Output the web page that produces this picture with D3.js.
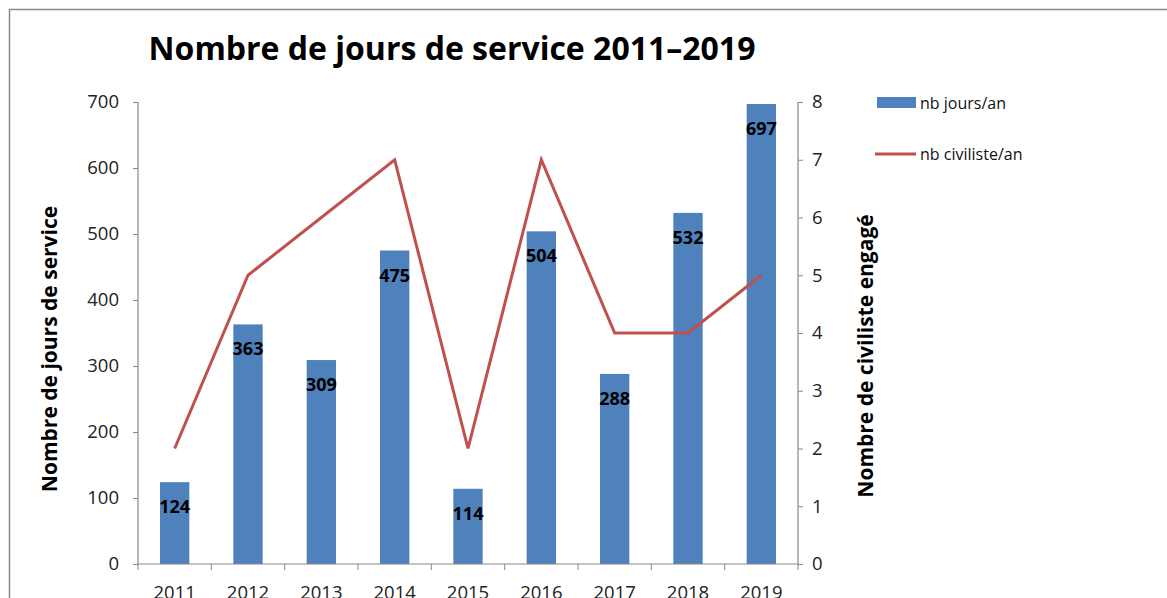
<!DOCTYPE html>
<html>
<head>
<meta charset="utf-8">
<script src="https://cdn.jsdelivr.net/npm/d3@7"></script>
<style>
body { margin: 0; background: #fff; }
svg { display: block; font-family: "Open Sans", "Noto Sans", sans-serif; }
</style>
</head>
<body>
<svg id="svg" width="1167" height="598"></svg>
<script>
// data
var years = ["2011","2012","2013","2014","2015","2016","2017","2018","2019"];
var jours = [124, 363, 309, 475, 114, 504, 288, 532, 697];
var civilistes = [2, 5, 6, 7, 2, 7, 4, 4, 5];
var leftTicks = [0,100,200,300,400,500,600,700];
var rightTicks = [0,1,2,3,4,5,6,7,8];

var blue = "#4F81BD";
var red = "#C0504D";
var svg = d3.select("#svg");

// outer border (cropped)
svg.append("path")
.attr("d","M9.5,600 L9.5,9.5 L1170,9.5")
.attr("fill","none")
.attr("stroke","#8a8a8a")
.attr("stroke-width",1.5);

var pLeft = 138, pRight = 798, pTop = 102, pBottom = 564;

var x = d3.scaleBand().domain(years).range([pLeft, pRight]).paddingInner(0.6).paddingOuter(0.3);
var xb = d3.scaleBand().domain(years).range([pLeft, pRight]);
var yL = d3.scaleLinear().domain([0,700]).range([pBottom, pTop]);
var yR = d3.scaleLinear().domain([0,8]).range([pBottom, pTop]);

// title
svg.append("text")
.attr("x", 452).attr("y", 60)
.attr("text-anchor","middle")
.style("font-size","32px").style("font-weight","bold")
.attr("fill","#000")
.text("Nombre de jours de service 2011\u20132019");

// bars
svg.append("g").selectAll("rect")
.data(jours)
.join("rect")
.attr("x", function(d,i){ return x(years[i]); })
.attr("width", x.bandwidth())
.attr("y", function(d){ return yL(d); })
.attr("height", function(d){ return yL(0) - yL(d); })
.attr("fill", blue);

// line
var line = d3.line()
.x(function(d,i){ return xb(years[i]) + xb.bandwidth()/2; })
.y(function(d){ return yR(d); });
svg.append("path")
.datum(civilistes)
.attr("d", line)
.attr("fill","none")
.attr("stroke", red)
.attr("stroke-width",3)
.attr("stroke-linejoin","miter");

// bar labels
svg.append("g").selectAll("text")
.data(jours)
.join("text")
.attr("x", function(d,i){ return xb(years[i]) + xb.bandwidth()/2; })
.attr("y", function(d){ return yL(d) + 31; })
.attr("text-anchor","middle")
.style("font-size","18px").style("font-weight","bold")
.attr("fill","#000")
.text(function(d){ return d; });

// left axis
var gL = svg.append("g").attr("transform","translate(" + pLeft + ",0)")
.call(d3.axisLeft(yL).tickValues(leftTicks).tickSize(5).tickPadding(14));
// right axis
var gR = svg.append("g").attr("transform","translate(" + pRight + ",0)")
.call(d3.axisRight(yR).tickValues(rightTicks).tickSize(5).tickPadding(9));
// bottom axis
var gB = svg.append("g").attr("transform","translate(0," + pBottom + ")")
.call(d3.axisBottom(xb).tickSize(0).tickPadding(22));
gB.selectAll(".bd").data(years.concat(["end"])).join("line")
.attr("class","bd")
.attr("x1", function(d,i){ return pLeft + i*xb.bandwidth(); })
.attr("x2", function(d,i){ return pLeft + i*xb.bandwidth(); })
.attr("y1",0).attr("y2",6)
.attr("stroke","#888");

[gL, gR, gB].forEach(function(g){
  g.select(".domain").attr("stroke","#888").attr("stroke-width",1.2);
  g.selectAll(".tick line").attr("stroke","#888");
  g.selectAll(".tick text").attr("fill","#222").style("font-size","18.5px").style("font-family","'Open Sans', sans-serif");
});
gL.select(".domain").attr("d","M0," + pTop + "V" + pBottom);
gR.select(".domain").attr("d","M0," + pTop + "V" + pBottom);
gB.select(".domain").attr("d","M" + pLeft + ",0H" + pRight);

// axis titles
svg.append("text")
.attr("transform","translate(57,349) rotate(-90)")
.attr("text-anchor","middle")
.style("font-size","21px").style("font-weight","bold")
.text("Nombre de jours de service");
svg.append("text")
.attr("transform","translate(873,356) rotate(-90)")
.attr("text-anchor","middle")
.style("font-size","21px").style("font-weight","bold")
.text("Nombre de civiliste engag\u00e9");

// legend
var legend = svg.append("g");
legend.append("rect").attr("x",877).attr("y",97).attr("width",39).attr("height",11).attr("fill",blue);
legend.append("text").attr("x",920).attr("y",109).style("font-size","16px").attr("fill","#111").text("nb jours/an");
legend.append("line").attr("x1",875).attr("x2",916).attr("y1",154).attr("y2",154).attr("stroke",red).attr("stroke-width",3);
legend.append("text").attr("x",920).attr("y",160).style("font-size","16px").attr("fill","#111").text("nb civiliste/an");
</script>
</body>
</html>
